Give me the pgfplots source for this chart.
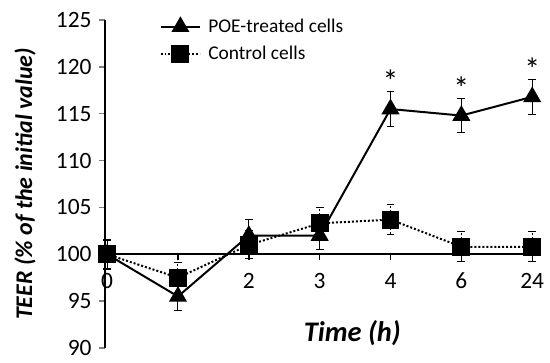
\documentclass[border=0pt]{standalone}
\usepackage{pgfplots}
\pgfplotsset{compat=1.18}
\usepackage{fontspec}
\setmainfont{Carlito}
\begin{document}
\begin{tikzpicture}
\begin{axis}[
  width=435bp, height=328bp, scale only axis,
  xmin=-0.03, xmax=6.11, ymin=90, ymax=125,
  axis y line=left, axis x line=none,
  axis line style={-, line width=1.4pt},
  ytick={90,95,...,125},
  ytick style={line width=1.4pt},
  tick align=outside, major tick length=6pt,
  yticklabel style={font=\fontsize{23.5}{28}\selectfont, xshift=-4pt},
  /pgf/number format/assume math mode=true,
  clip=false,
  legend style={at={(0.118,1.015)}, anchor=north west, draw=none, fill=none,
    font=\fontsize{19.5}{23}\selectfont, row sep=8pt, column sep=5pt},
  legend cell align=left,
  legend image code/.code={\draw[mark repeat=2,mark phase=2,#1] plot coordinates {(0pt,0pt) (20pt,0pt) (40pt,0pt)};},
  error bars/error bar style={black, line width=1pt},
  error bars/error mark options={rotate=90, mark size=4pt, line width=1pt},
]
\addplot[black, line width=1.6pt, forget plot] coordinates {(-0.03,100) (6.11,100)};
\addplot[black, line width=2pt, mark=triangle*, mark size=8.5pt, mark options={solid},
  error bars/.cd, y dir=both, y explicit]
  coordinates {
  (0,100) +- (0,1.6)
  (1,95.5) +- (0,1.5)
  (2,102) +- (0,1.7)
  (3,102) +- (0,1.5)
  (4,115.5) +- (0,1.9)
  (5,114.8) +- (0,1.85)
  (6,116.8) +- (0,1.85)
  };
\addlegendentry{POE-treated cells}
\addplot[black, line width=2pt, dash pattern=on 2pt off 2pt, mark=square*, mark size=8pt, mark options={solid},
  error bars/.cd, y dir=both, y explicit]
  coordinates {
  (0,100) +- (0,1.5)
  (1,97.5) +- (0,1.6)
  (2,101) +- (0,1.5)
  (3,103.3) +- (0,1.7)
  (4,103.7) +- (0,1.6)
  (5,100.8) +- (0,1.6)
  (6,100.8) +- (0,1.6)
  };
\addlegendentry{Control cells}
\pgfplotsinvokeforeach{1,...,6}{
  \draw[line width=1.4pt] (axis cs:#1,100) -- ([yshift=-6pt]axis cs:#1,100);
}
\node[font=\fontsize{23.5}{28}\selectfont] at ([yshift=-27pt]axis cs:0,100) {0};
\node[font=\fontsize{23.5}{28}\selectfont] at ([yshift=-27pt]axis cs:2,100) {2};
\node[font=\fontsize{23.5}{28}\selectfont] at ([yshift=-27pt]axis cs:3,100) {3};
\node[font=\fontsize{23.5}{28}\selectfont] at ([yshift=-27pt]axis cs:4,100) {4};
\node[font=\fontsize{23.5}{28}\selectfont] at ([yshift=-27pt]axis cs:5,100) {6};
\node[font=\fontsize{23.5}{28}\selectfont] at ([yshift=-27pt]axis cs:6,100) {24};
\node[font=\fontsize{32}{36}\selectfont] at ([yshift=-5pt]axis cs:4,118.95) {*};
\node[font=\fontsize{32}{36}\selectfont] at ([yshift=-5pt]axis cs:5,118.3) {*};
\node[font=\fontsize{32}{36}\selectfont] at ([yshift=-5pt]axis cs:6,120.3) {*};
\node[font=\fontsize{24}{28}\selectfont\bfseries\itshape, rotate=90] at (rel axis cs:-0.184,0.5) {TEER (\% of the initial value)};
\node[font=\fontsize{28.5}{33}\selectfont\bfseries\itshape] at (axis cs:3.46,91.6) {Time (h)};
\coordinate (bbl) at (rel axis cs:-0.2414,-0.0457);
\coordinate (bbr) at (rel axis cs:1.0230,1.061);
\end{axis}
\pgfresetboundingbox
\path[use as bounding box] (bbl) rectangle (bbr);
\end{tikzpicture}
\end{document}
